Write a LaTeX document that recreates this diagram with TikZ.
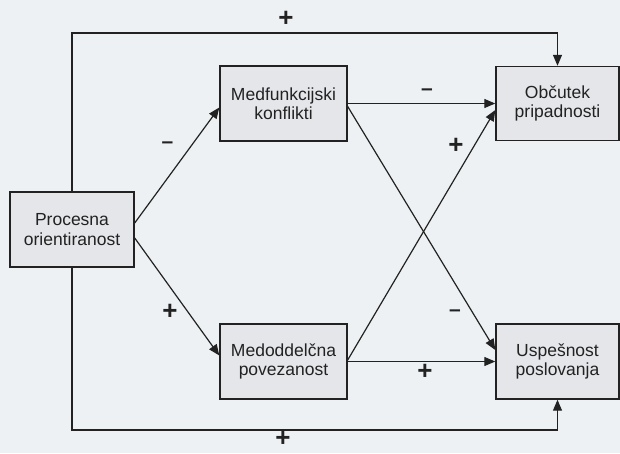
\documentclass[tikz,border=0pt]{standalone}
\usepackage{fontspec}
\setmainfont{Liberation Sans}
\usetikzlibrary{arrows.meta,calc}
\definecolor{bgc}{HTML}{EEF1F3}
\definecolor{boxc}{HTML}{E4E6E9}
\definecolor{linec}{HTML}{222222}
\begin{document}
\begin{tikzpicture}[x=1pt,y=-1pt,
  box/.style={draw=linec,line width=1.4pt,fill=boxc,align=center,inner sep=0pt,
    font=\fontsize{17.5}{19.5}\selectfont,text=linec},
  arr/.style={draw=linec,line width=1.2pt,-{Triangle[length=11pt,width=9pt]}},
  plus/.style={font=\fontsize{26}{26}\bfseries\selectfont,text=linec,inner sep=0pt,text depth=0pt,text height=17pt},
  minus/.style={font=\fontsize{21}{21}\bfseries\selectfont,text=linec,inner sep=0pt}]
\fill[bgc] (0,0) rectangle (620,453);
\useasboundingbox (0,0) rectangle (620,453);
\node[box,minimum width=124pt,minimum height=75pt] (proc) at (72,229.5) {Procesna\\orientiranost};
\node[box,minimum width=127pt,minimum height=75pt] (med) at (283.5,103.5) {Medfunkcijski\\konflikti};
\node[box,minimum width=127pt,minimum height=75pt] (medo) at (283.5,361.5) {Medoddelčna\\povezanost};
\node[box,minimum width=123pt,minimum height=74pt] (obc) at (557.5,103.5) {Občutek\\pripadnosti};
\node[box,minimum width=123pt,minimum height=75pt] (usp) at (557.5,361.5) {Uspešnost\\poslovanja};
\coordinate (topy) at (0,33);
\coordinate (boty) at (0,430);
\draw[arr] (proc.north) -- (proc.north |- topy) -| (obc.north);
\draw[arr] (proc.south) -- (proc.south |- boty) -| (usp.south);
\draw[arr] ($(proc.east)+(0,-6.5)$) -- ($(med.west)+(0,4)$);
\draw[arr] ($(proc.east)+(0,8.5)$) -- ($(medo.west)+(0,-6)$);
\draw[arr] (med.east) -- (obc.west);
\draw[arr] ($(med.east)+(0,3)$) -- ($(usp.west)+(0,-11.5)$);
\draw[arr] ($(medo.east)+(0,-1.5)$) -- ($(obc.west)+(0,6.5)$);
\draw[arr] (medo.east) -- (usp.west);
\node[plus] (s1) at (286,18) {+};
\node[plus] (s2) at (283,438) {+};
\node[minus] (s3) at (167.5,145) {–};
\node[plus] (s4) at (170,311) {+};
\node[minus] (s5) at (427,92) {–};
\node[plus] (s6) at (456,145) {+};
\node[minus] (s7) at (455,313) {–};
\node[plus] (s8) at (425,371) {+};
\end{tikzpicture}
\end{document}
